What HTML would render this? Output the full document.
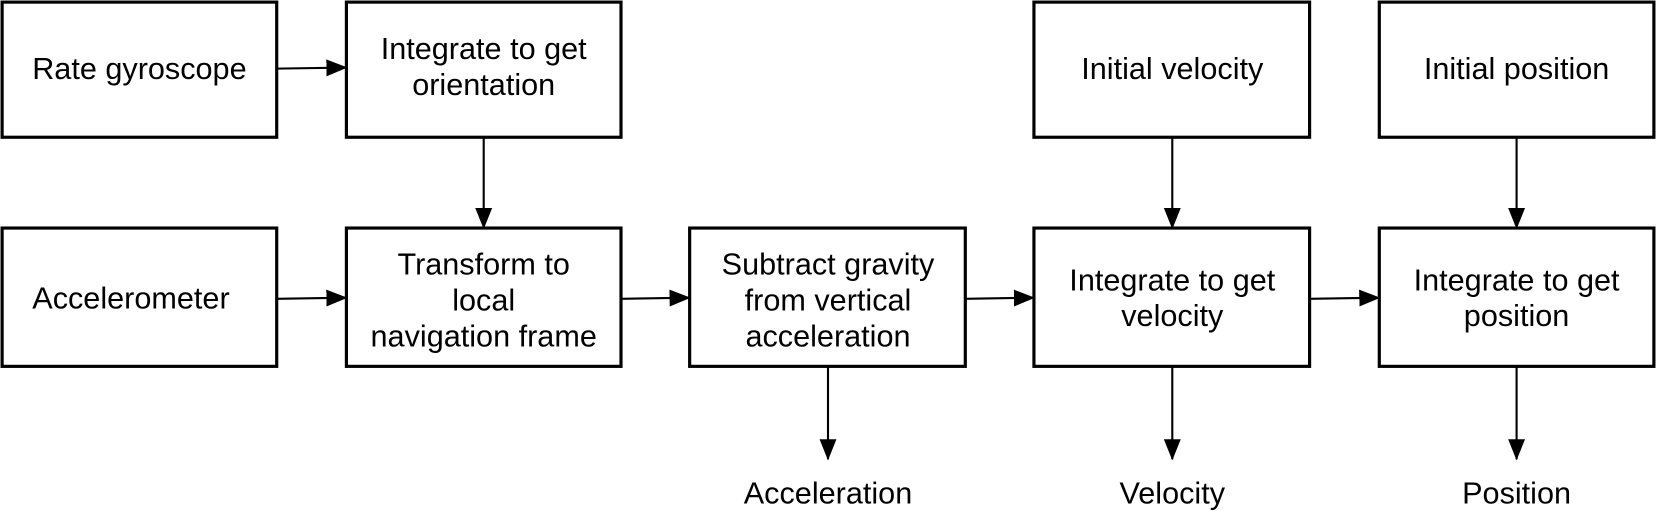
<!DOCTYPE html>
<html><head><style>html,body{margin:0;padding:0;background:#fff}svg{display:block}</style></head><body>
<svg width="1656" height="511" viewBox="0 0 1568 484" preserveAspectRatio="none" xmlns="http://www.w3.org/2000/svg">
<defs><marker id="b" markerWidth="20" markerHeight="20" refX="19" refY="10" orient="auto" markerUnits="userSpaceOnUse" viewBox="0 0 20 20"><path d="M0,2 L20,10 L0,18z" fill="#000"/></marker></defs>
<g fill="#fff" stroke="#000" stroke-width="3">
<rect x="2" y="2" width="260" height="128"/><rect x="328" y="2" width="260" height="128"/>
<rect x="979" y="2" width="261" height="128"/><rect x="1306" y="2" width="260" height="128"/>
<rect x="2" y="216" width="260" height="131"/><rect x="328" y="216" width="260" height="131"/>
<rect x="653" y="216" width="261" height="131"/><rect x="979" y="216" width="261" height="131"/><rect x="1306" y="216" width="260" height="131"/>
</g>
<g stroke="#000" stroke-width="2" fill="none" marker-end="url(#b)">
<path d="M262,65 L328,64"/><path d="M262,283 L328,282"/><path d="M588,283 L653,282"/><path d="M914,283 L979,282"/><path d="M1240,283 L1306,282"/>
<path d="M458,130 L458,216"/><path d="M1110,130 L1110,216"/><path d="M1436,130 L1436,216"/>
<path d="M784,347 L784,435"/><path d="M1110,347 L1110,435"/><path d="M1436,347 L1436,435"/>
</g>
<g font-family="Liberation Sans, sans-serif" font-size="29" text-anchor="middle" fill="#000">
<text x="132" y="75">Rate gyroscope</text>
<text x="458" y="56">Integrate to get</text><text x="458" y="90">orientation</text>
<text x="1110" y="75">Initial velocity</text><text x="1436" y="75">Initial position</text>
<text x="124" y="292">Accelerometer</text>
<text x="458" y="260">Transform to</text><text x="458" y="294">local</text><text x="458" y="328">navigation frame</text>
<text x="784" y="260">Subtract gravity</text><text x="784" y="294">from vertical</text><text x="784" y="328">acceleration</text>
<text x="1110" y="275">Integrate to get</text><text x="1110" y="309">velocity</text>
<text x="1436" y="275">Integrate to get</text><text x="1436" y="309">position</text>
<text x="784" y="477">Acceleration</text><text x="1110" y="477">Velocity</text><text x="1436" y="477">Position</text>
</g>
</svg>
</body></html>
